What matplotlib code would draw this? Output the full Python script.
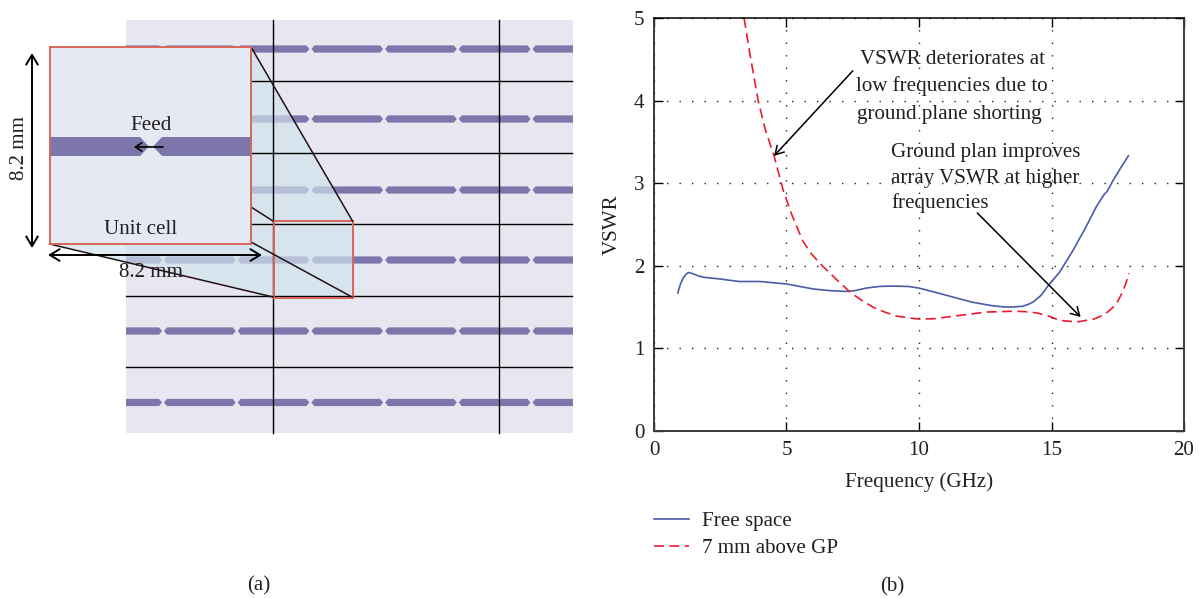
"""Unit cell sketch and VSWR curves, side by side."""

import matplotlib
matplotlib.use("Agg")
import matplotlib.pyplot as plt
from matplotlib.patches import Polygon, Rectangle

freq_free = [0.9, 0.95, 1.0, 1.1, 1.2, 1.3, 1.5, 1.7, 1.9, 2.5, 3.2, 4.0, 5.0, 6.0, 6.6, 7.2, 7.6, 8.0, 8.5, 9.0, 9.6,
             10.0, 10.6, 11.3, 12.0, 12.7, 13.1, 13.4, 13.7, 13.9, 14.1, 14.3, 14.6, 14.9, 15.3, 15.8, 16.3, 16.7, 17.0,
             17.1, 17.3, 17.6, 17.9]
vswr_free = [1.67, 1.73, 1.78, 1.85, 1.895, 1.92, 1.90, 1.875, 1.86, 1.84, 1.81, 1.81, 1.78, 1.72, 1.70, 1.69, 1.70,
             1.73, 1.75, 1.755, 1.75, 1.73, 1.68, 1.62, 1.56, 1.52, 1.505, 1.50, 1.505, 1.51, 1.53, 1.56, 1.64, 1.77,
             1.92, 2.18, 2.47, 2.72, 2.87, 2.90, 3.02, 3.18, 3.33]
freq_gp = [3.4, 3.6, 3.93, 4.2, 4.53, 4.87, 5.2, 5.6, 5.9, 6.26, 6.8, 7.4, 7.8, 8.26, 8.7, 9.17, 9.6, 10.0, 10.6, 11.3,
           12.55, 13.56, 14.0, 14.44, 14.9, 15.3, 15.96, 16.6, 17.0, 17.3, 17.5, 17.66, 17.8, 17.92]
vswr_gp = [5.0, 4.6, 4.0, 3.65, 3.33, 2.92, 2.62, 2.31, 2.16, 2.03, 1.86, 1.68, 1.59, 1.5, 1.44, 1.39, 1.37, 1.355,
           1.36, 1.39, 1.44, 1.45, 1.445, 1.43, 1.39, 1.34, 1.32, 1.355, 1.41, 1.49, 1.57, 1.67, 1.78, 1.91]
series_names = ["Free space", "7 mm above GP"]
x_ticks = [0, 5, 10, 15, 20]
y_ticks = [0, 1, 2, 3, 4, 5]

INK = "#231f20"
FONT_PX = 21
FS = FONT_PX * 0.72


def strip(ax, yc, clip):
    # one row of dipoles, gaps every 73.7 px
    gaps = [89.3 + 73.7 * i for i in range(8)]
    for g1, g2 in zip(gaps[:-1], gaps[1:]):
        pts = [(g1 + 1, yc), (g1 + 4, yc - 3.6), (g2 - 4, yc - 3.6), (g2 - 1, yc), (g2 - 4, yc + 3.6), (g1 + 4, yc + 3.6)]
        p = Polygon(pts, fc="#7d76aa", ec="none", zorder=2)
        ax.add_patch(p)
        p.set_clip_path(clip)


def draw_cell(ax):
    bg = Rectangle((126, 20), 447, 413, fc="#e7e7f2", ec="none", zorder=1)
    ax.add_patch(bg)
    for yc in [49, 119, 190, 260, 331, 402.5]:
        strip(ax, yc, bg)

    ax.add_patch(Polygon([(251, 47), (352.5, 221), (352.5, 297), (273, 297), (49.5, 244)],
                         fc="#d0e3ec", alpha=0.68, ec="none", zorder=3))
    for y in [81, 153, 224, 295.5, 367]:
        ax.plot([126, 572], [y, y], color="black", lw=1.0, zorder=4)
    for x in [273, 499]:
        ax.plot([x, x], [20, 433], color="black", lw=1.0, zorder=4)

    ax.add_patch(Rectangle((273.5, 221), 79, 76.5, fc="none", ec="#d9655a", lw=1.4, zorder=5))
    for (x0, y0), (x1, y1) in [((251, 47), (352.5, 221)), ((49.5, 244), (273, 297)),
                               ((251, 207), (273, 221)), ((251, 242), (352, 297))]:
        ax.plot([x0, x1], [y0, y1], color="#231015", lw=1.1, zorder=6)

    ax.add_patch(Rectangle((49.5, 47), 201.5, 197, fc="#e5e9f3", ec="none", zorder=7))
    ax.add_patch(Polygon([(49.5, 137), (140, 137), (149, 146.5), (140, 156), (49.5, 156)], fc="#7d76aa", ec="none", zorder=8))
    ax.add_patch(Polygon([(153, 146.5), (162, 137), (251, 137), (251, 156), (162, 156)], fc="#7d76aa", ec="none", zorder=8))
    ax.add_patch(Rectangle((49.5, 47), 201.5, 197, fc="none", ec="#d9655a", lw=1.4, zorder=9))

    arrow = dict(arrowstyle="<->,head_length=0.7,head_width=0.42", color="black", lw=1.4, shrinkA=0, shrinkB=0)
    ax.annotate("", xy=(32, 53), xytext=(32, 248), arrowprops=arrow, zorder=10)
    ax.annotate("", xy=(48, 255), xytext=(262, 255), arrowprops=arrow, zorder=10)
    ax.annotate("", xy=(134, 147), xytext=(163, 147), zorder=10,
                arrowprops=dict(arrowstyle="->,head_length=0.45,head_width=0.3", color="black", lw=1.2, shrinkA=0, shrinkB=0))

    ax.text(19, 148, "8.2 mm", rotation=90, ha="center", va="center", fontsize=FS, color=INK, zorder=11)
    ax.text(151, 272.5, "8.2 mm", ha="center", va="center", fontsize=FS, color=INK, zorder=11)
    ax.text(151, 125, "Feed", ha="center", va="center", fontsize=FS, color=INK, zorder=11)
    ax.text(141, 230, "Unit cell", ha="center", va="center", fontsize=FS, color=INK, zorder=11)
    ax.text(259, 586, "(a)", ha="center", va="center", fontsize=FS, color=INK)
    ax.text(892, 587, "(b)", ha="center", va="center", fontsize=FS, color=INK)

    # annotations of panel (b) sit in pixel space too
    for x, y, line in [(860, 59, "VSWR deteriorates at"), (856, 86, "low frequencies due to"), (857, 114, "ground plane shorting"),
                       (891, 152, "Ground plan improves"), (891, 179, "array VSWR at higher"), (891, 203, "frequencies")]:
        ax.text(x, y, line, ha="left", va="center", fontsize=FS, color=INK, zorder=11)


def draw_vswr(ax):
    ax.plot(freq_free, vswr_free, color="#4a5ca8", lw=1.2, label=series_names[0])
    ax.plot(freq_gp, vswr_gp, color="#ed1c2e", lw=1.2, dashes=(6, 3.2), label=series_names[1])
    ax.set_xlim(0, 20)
    ax.set_ylim(0, 5)
    ax.set_xticks(x_ticks)
    ax.set_yticks(y_ticks)
    ax.tick_params(direction="in", length=6.3, width=1.0, top=True, right=True, labelsize=FS, labelcolor=INK, pad=7)
    ax.grid(True, color="#222222", lw=1.0, linestyle=(0, (1, 8)))
    ax.set_axisbelow(True)
    for name, side in ax.spines.items():
        side.set_linewidth(1.4 if name in ("left", "right", "bottom") else 1.1)
        side.set_color("#3a3a3a" if name != "top" else "black")
    ax.set_xlabel("Frequency (GHz)", fontsize=FS, color=INK, labelpad=9)
    ax.set_ylabel("VSWR", fontsize=FS, color=INK, labelpad=9)
    ax.annotate("", xy=(4.53, 3.33), xytext=(7.5, 4.36), zorder=6,
                arrowprops=dict(arrowstyle="->,head_length=0.6,head_width=0.35", color="black", lw=1.1, shrinkA=0, shrinkB=0))
    ax.annotate("", xy=(16.1, 1.38), xytext=(12.2, 2.64), zorder=6,
                arrowprops=dict(arrowstyle="->,head_length=0.6,head_width=0.35", color="black", lw=1.1, shrinkA=0, shrinkB=0))
    ax.legend(loc="upper left", bbox_to_anchor=(0, -0.195), frameon=False, borderpad=0, borderaxespad=0, fontsize=FS,
              handlelength=1.68, handletextpad=0.62, labelspacing=0.36, labelcolor=INK)


def main():
    plt.rcParams["font.family"] = ["Liberation Serif", "DejaVu Serif"]
    W, H = 1201, 598
    fig = plt.figure(figsize=(W / 100, H / 100), dpi=100)
    sketch = fig.add_axes([0, 0, 1, 1], zorder=3)
    sketch.set_xlim(0, W)
    sketch.set_ylim(H, 0)
    sketch.axis("off")
    sketch.patch.set_alpha(0)
    chart = fig.add_axes([654 / W, 1 - 431 / H, 530 / W, 413 / H], zorder=1)
    draw_cell(sketch)
    draw_vswr(chart)
    fig.savefig("out.png", dpi=100)
    plt.close(fig)


if __name__ == "__main__":
    main()
